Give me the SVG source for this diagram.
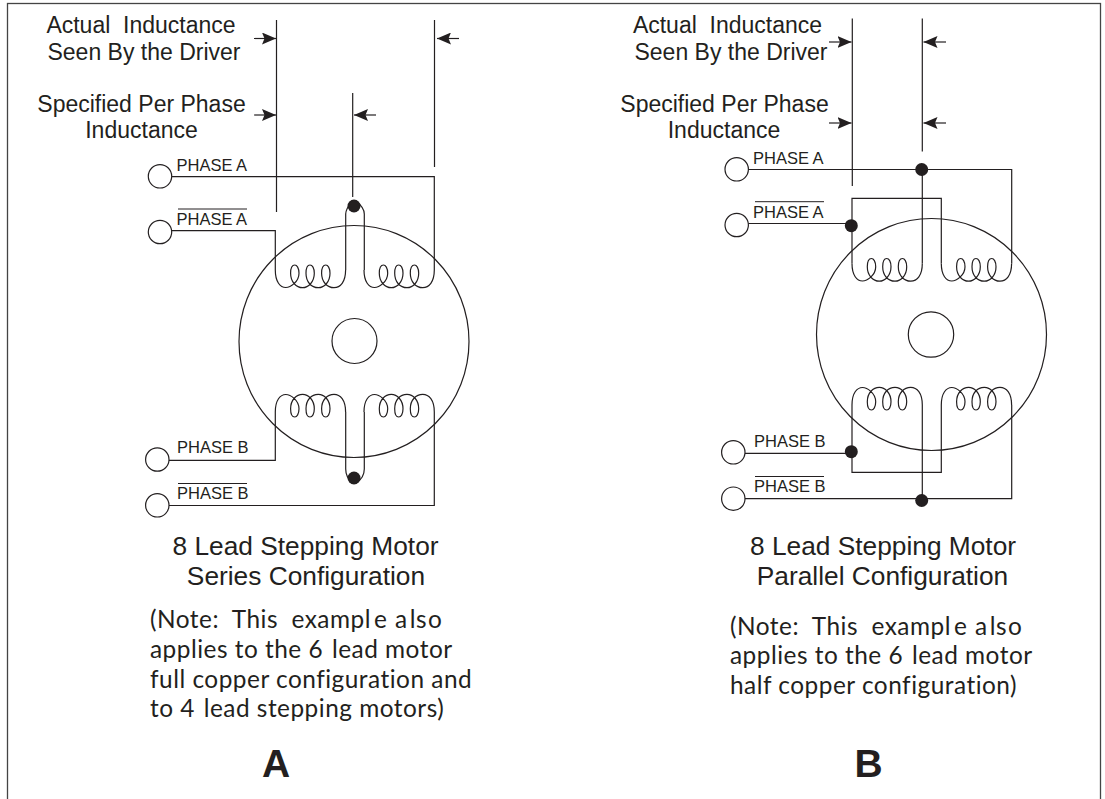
<svg xmlns="http://www.w3.org/2000/svg" width="1105" height="799" viewBox="0 0 1105 799">
<style>
.w{fill:none;stroke:#231f20;stroke-width:1.2}
.c{fill:#fff;stroke:#231f20;stroke-width:1.2}
.m{fill:none;stroke:#231f20;stroke-width:1.2}
.d{fill:#231f20}
.ov{stroke:#231f20;stroke-width:1;fill:none}
text{fill:#231f20;font-family:"Liberation Sans",Arial,sans-serif}
.l{font-size:23px;text-anchor:middle}
.t{font-size:26.300px;text-anchor:middle}
.p{font-size:16.5px}
.n{font-family:Lato,"Open Sans",sans-serif;font-size:24.400px;letter-spacing:.5px}
.h{font-size:39px;font-weight:bold;text-anchor:middle}
</style>
<defs>
<marker id="a" markerWidth="15" markerHeight="12" refX="14" refY="6" orient="auto" markerUnits="userSpaceOnUse"><path d="M0 0L14 6L0 12L2.500 6Z" fill="#231f20"/></marker>
<path id="coil" class="w" d="M0 0C0 12 5 17.500 10.500 17.500C15 17.500 23.700 12 23.700 3.300C23.700 -2 21.500 -5 19.500 -5C17 -5 15.300 -2 15.300 3.300C15.300 12 21 17.700 27.300 17.700C33 17.700 39 12 39 3.300C39 -2 37 -5 34.700 -5C32.500 -5 30.700 -2 30.700 3.300C30.700 12 36 17.700 43 17.700C49 17.700 54.700 12 54.700 3.300C54.700 -2 52.500 -5 50.500 -5C48 -5 46.300 -2 46.300 3.300C46.300 12 52 17.700 58.700 17.700C65 17.700 70.300 12 70.300 0"/>
</defs>
<rect x="7.500" y="3.500" width="1093" height="810" fill="none" stroke="#444" stroke-width="1.3"/>
<g id="motor-A">
<ellipse class="m" cx="354" cy="341.500" rx="115" ry="116"/>
<circle class="m" cx="354.500" cy="341" r="22.500"/>
<use href="#coil" x="275.300" y="270"/>
<use href="#coil" x="364" y="270"/>
<use href="#coil" transform="translate(275.300 412) scale(1 -1)"/>
<use href="#coil" transform="translate(364 412) scale(1 -1)"/>
<circle class="d" cx="354" cy="206" r="6.500"/>
<circle class="d" cx="354" cy="478" r="6.500"/>
</g>
<g id="motor-B">
<ellipse class="m" cx="931.500" cy="334.500" rx="115" ry="116"/>
<circle class="m" cx="931" cy="334.500" r="22.700"/>
<use href="#coil" x="852" y="263.500"/>
<use href="#coil" x="941.300" y="263.500"/>
<use href="#coil" transform="translate(852 405) scale(1 -1)"/>
<use href="#coil" transform="translate(941.300 405) scale(1 -1)"/>
<circle class="d" cx="921.700" cy="169.500" r="6.500"/>
<circle class="d" cx="851.300" cy="225.700" r="6.500"/>
<circle class="d" cx="851.300" cy="451.700" r="6.500"/>
<circle class="d" cx="921.700" cy="500.500" r="6.500"/>
</g>
<g id="connectors">
<g id="A-dim">
<path class="w" d="M276.500 20V212M434.500 20V167M352.700 93V197"/>
<path class="w" d="M254 38.500H276" marker-end="url(#a)"/>
<path class="w" d="M459 38.500H437" marker-end="url(#a)"/>
<path class="w" d="M254 115H276" marker-end="url(#a)"/>
<path class="w" d="M376 115H354" marker-end="url(#a)"/>
</g>
<g id="A-wires">
<path class="w" d="M172 176.700H434.300V270"/>
<path class="w" d="M172 230.700H275.300V270"/>
<path class="w" d="M345.700 270V214C345.700 209 349 205 352 201M364.300 270V214C364.300 209 361 205 356 201"/>
<path class="w" d="M275.300 412V460.300H169"/>
<path class="w" d="M434.300 412V505.500H169"/>
<path class="w" d="M345.700 412V469C345.700 475 349 480 352 483M364.300 412V469C364.300 475 361 480 356 483"/>
</g>
<g id="B-dim">
<path class="w" d="M852.300 18.500V186M922.300 18.500V151.500"/>
<path class="w" d="M829 42H851.500" marker-end="url(#a)"/>
<path class="w" d="M946 42H923.500" marker-end="url(#a)"/>
<path class="w" d="M829 123H851.500" marker-end="url(#a)"/>
<path class="w" d="M946 123H923.500" marker-end="url(#a)"/>
</g>
<g id="B-wires">
<path class="w" d="M748 169.500H1011.700V263.500"/>
<path class="w" d="M922.300 169.500V263.500"/>
<path class="w" d="M748 223.500H852"/>
<path class="w" d="M852 263.500V198.300H941.300V263.500"/>
<path class="w" d="M852 405V472.300H941.300V405"/>
<path class="w" d="M745 453.300H852"/>
<path class="w" d="M922.300 405V499"/>
<path class="w" d="M745 498.700H1011.700V405"/>
</g>
</g>
<g id="terminals-A">
<circle class="c" cx="160" cy="176.300" r="11.700"/>
<circle class="c" cx="160" cy="232" r="11.700"/>
<circle class="c" cx="157.300" cy="459.500" r="11.700"/>
<circle class="c" cx="157.300" cy="505.300" r="11.700"/>
</g>
<g id="terminals-B">
<circle class="c" cx="736.700" cy="169.300" r="11.700"/>
<circle class="c" cx="736.700" cy="225" r="11.700"/>
<circle class="c" cx="733.300" cy="452.300" r="11.700"/>
<circle class="c" cx="733.300" cy="498.700" r="11.700"/>
</g>
<g id="labels-A">
<text class="l" x="141" y="33" xml:space="preserve">Actual  Inductance</text>
<text class="l" x="144" y="60">Seen By the Driver</text>
<text class="l" x="141.500" y="112">Specified Per Phase</text>
<text class="l" x="141.500" y="138">Inductance</text>
<text class="p" x="176.500" y="170.700">PHASE A</text>
<text class="p" x="176.500" y="225">PHASE A</text>
<line class="ov" x1="178" y1="209" x2="247" y2="209"/>
<text class="p" x="177" y="453">PHASE B</text>
<text class="p" x="177" y="499">PHASE B</text>
<line class="ov" x1="178" y1="483.500" x2="247" y2="483.500"/>
<text class="t" x="305.500" y="555">8 Lead Stepping Motor</text>
<text class="t" x="306" y="585">Series Configuration</text>
<text class="n" x="150" y="628" xml:space="preserve">(Note:  This  exampl<tspan dx="3">e</tspan> <tspan dx="1">a</tspan><tspan dx="2">ls</tspan><tspan dx="1">o</tspan></text>
<text class="n" x="150" y="658">applies to the 6 <tspan dx="2">lead</tspan> motor</text>
<text class="n" x="150" y="688">full copper configuration and</text>
<text class="n" x="150" y="717">to 4 <tspan dx="2">lead</tspan> stepping motors)</text>
<text class="h" x="276" y="776.500">A</text>
</g>
<g id="labels-B">
<text class="l" x="727.500" y="33" xml:space="preserve">Actual  Inductance</text>
<text class="l" x="731" y="60">Seen By the Driver</text>
<text class="l" x="724.500" y="112">Specified Per Phase</text>
<text class="l" x="724" y="138">Inductance</text>
<text class="p" x="753" y="164">PHASE A</text>
<text class="p" x="753" y="218">PHASE A</text>
<line class="ov" x1="755" y1="201.700" x2="824" y2="201.700"/>
<text class="p" x="754" y="447">PHASE B</text>
<text class="p" x="754" y="492">PHASE B</text>
<line class="ov" x1="755" y1="476.500" x2="824" y2="476.500"/>
<text class="t" x="883" y="555">8 Lead Stepping Motor</text>
<text class="t" x="882.500" y="585">Parallel Configuration</text>
<text class="n" x="730" y="635" xml:space="preserve">(Note:  This  exampl<tspan dx="3">e</tspan> <tspan dx="1">a</tspan><tspan dx="2">ls</tspan><tspan dx="1">o</tspan></text>
<text class="n" x="730" y="664">applies to the 6 <tspan dx="2">lead</tspan> motor</text>
<text class="n" x="730" y="694">half copper configuration)</text>
<text class="h" x="868.500" y="776.500">B</text>
</g>
</svg>
